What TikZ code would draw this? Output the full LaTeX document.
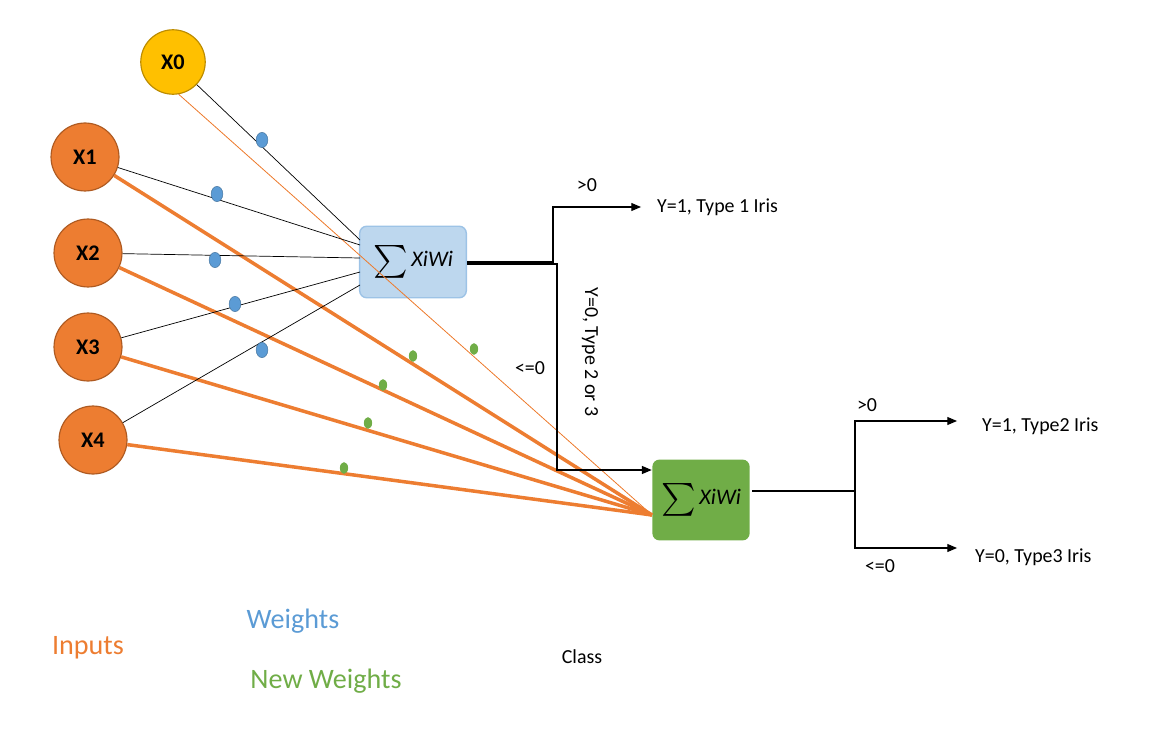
\documentclass[tikz,border=0pt]{standalone}
\usepackage{fontspec}
\setmainfont{Carlito}
\usetikzlibrary{arrows,shapes.geometric,positioning,calc}
\definecolor{inorange}{HTML}{ED7D31}
\definecolor{inborder}{HTML}{AE5A21}
\definecolor{xzero}{HTML}{FFC000}
\definecolor{xzeroborder}{HTML}{BC8C00}
\definecolor{wblue}{HTML}{5B9BD5}
\definecolor{wborder}{HTML}{41719C}
\definecolor{boxblue}{HTML}{BDD7EE}
\definecolor{boxborder}{HTML}{9DC3E6}
\definecolor{ngreen}{HTML}{70AD47}
\newcommand{\sumxw}{\raisebox{-0.45em}{\scalebox{2.8}{$\sum$}}\,$\mathit{XiWi}$}
\tikzset{
  input/.style={circle,draw=inborder,fill=inorange,line width=1pt,minimum size=58pt,inner sep=0pt,font=\fontsize{19}{19}\selectfont\bfseries},
  sumbox/.style={rounded corners=6,line width=1.2pt,minimum width=91pt,minimum height=61pt,inner sep=0pt,font=\fontsize{19}{19}\selectfont},
  weight/.style={ellipse,draw=wborder,fill=wblue,minimum width=10pt,minimum height=13pt,inner sep=0pt},
  newweight/.style={ellipse,fill=ngreen,minimum width=7pt,minimum height=10pt,inner sep=0pt},
  lab/.style={font=\fontsize{17}{17}\selectfont,inner sep=0pt},
  legend/.style={font=\fontsize{24}{24}\selectfont,inner sep=0pt},
  decision/.style={-triangle 45,line width=0.9pt}
}
\begin{document}
\begin{tikzpicture}[x=0.03cm,y=-0.03cm]
        \useasboundingbox (0,0) rectangle (1163,734);

        % inputs
        \node [input,draw=xzeroborder,fill=xzero,minimum size=55pt] (x0) at (173,62) {X0};
        \node [input] (x1) at (85,157) {X1};
        \node [input] (x2) at (88,253) {X2};
        \node [input] (x3) at (88,347) {X3};
        \node [input] (x4) at (93,440) {X4};

        % summing nodes
        \node [sumbox,draw=boxborder,fill=boxblue] (sum1) at (413,262) {\sumxw};
        \node [sumbox,fill=ngreen,minimum width=83pt,minimum height=69pt] (sum2) at (701,500) {\sumxw};
        \coordinate (s1in0) at (360,240);
        \coordinate (s1in1) at (360,245);
        \coordinate (s1in2) at (360,258);
        \coordinate (s1in3) at (360,272);
        \coordinate (s1in4) at (360,285);
        \coordinate (s2in) at (652,515);

        % new weights (orange)
        \draw [inorange,line width=0.7pt] (x0.-80) -- (s2in);
        \foreach \i in {1,...,4}
          \draw [inorange,line width=3pt] (x\i) -- (s2in);
        % old weights (black)
        \foreach \i in {0,...,4}
          \draw [black,line width=0.6pt] (x\i) -- (s1in\i);

        \node [weight] (w0) at (262,140) {};
        \node [weight] (w1) at (217,194) {};
        \node [weight] (w2) at (215,260) {};
        \node [weight] (w3) at (235,304) {};
        \node [weight] (w4) at (262,350) {};
        \node [newweight] (n0) at (474,349) {};
        \node [newweight] (n1) at (413,356) {};
        \node [newweight] (n2) at (383,385) {};
        \node [newweight] (n3) at (368,423) {};
        \node [newweight] (n4) at (344,468) {};

        % first decision
        \coordinate (b1) at (553,262);
        \coordinate (b2) at (557,264);
        \node [lab,anchor=west] (c1) at (657,207) {Y=1, Type 1 Iris};
        \draw [decision] (sum1.east) -- (b1) |- ($(c1.west)+(-16,0)$);
        \draw [decision] ($(sum1.east)+(0,2)$) -- (b2) |- ($(sum2.west)+(0,-30)$);
        \node [lab] (gt1) at (587,185) {>0};
        \node [lab] (le1) at (530,368) {<=0};
        \node [lab,rotate=-90] (rest) at (590,352) {Y=0, Type 2 or 3};

        % second decision
        \coordinate (b3) at (855,491);
        \node [lab,anchor=west] (c2) at (982,426) {Y=1, Type2 Iris};
        \node [lab,anchor=west] (c3) at (975,557) {Y=0, Type3 Iris};
        \draw [line width=1.5pt] ($(sum2.east)+(2,-9)$) -- (b3);
        \draw [decision] (b3) |- ($(c2.west)+(-25,-5)$);
        \draw [decision] (b3) |- ($(c3.west)+(-18,-9)$);
        \node [lab] (gt2) at (867,405) {>0};
        \node [lab] (le2) at (880,566) {<=0};

        % legend
        \node [legend,text=inorange] (inputs) at (88,648) {Inputs};
        \node [legend,text=wblue] (weights) at (293,621) {Weights};
        \node [legend,text=ngreen] (newweights) at (326,681) {New Weights};
        \node [lab] (class) at (582,657) {Class};
      \end{tikzpicture}
\end{document}
